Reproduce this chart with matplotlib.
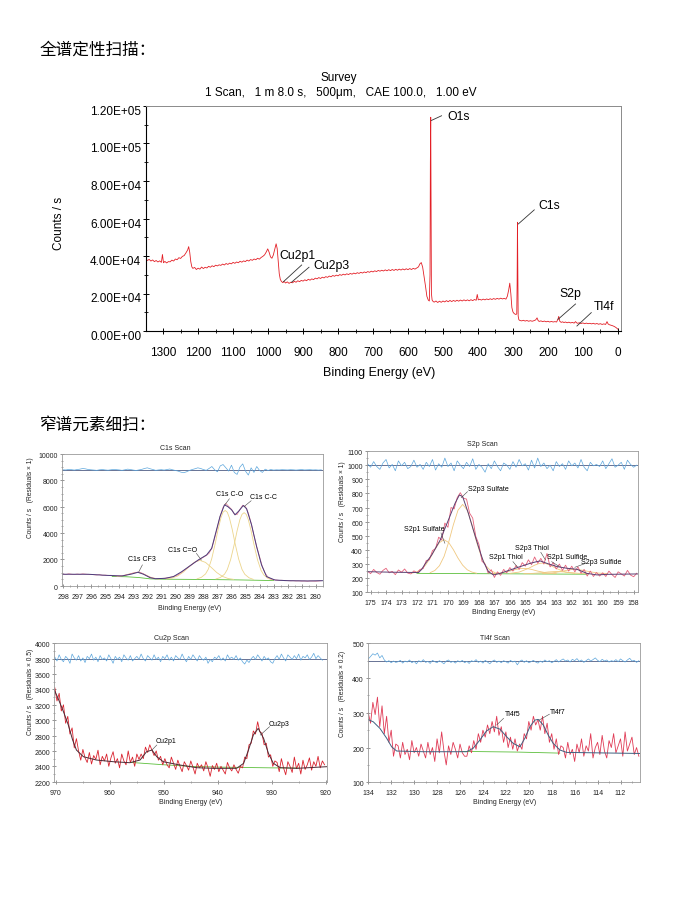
import numpy as np
import matplotlib
matplotlib.use('Agg')
import matplotlib.pyplot as plt
from matplotlib.ticker import MultipleLocator, FuncFormatter
import matplotlib.transforms as mtransforms

plt.rcParams['font.family'] = ['Liberation Sans', 'DejaVu Sans']

# ---------------- survey ----------------
survey_be = [1350, 1345, 1340, 1335, 1330, 1325, 1320, 1315, 1310, 1305, 1302, 1299, 1295, 1290, 1285,
             1280, 1275, 1270, 1265, 1260, 1255, 1250, 1245, 1240, 1235, 1230, 1227, 1224, 1221, 1218,
             1215, 1210, 1205, 1200, 1195, 1190, 1185, 1180, 1175, 1170, 1165, 1160, 1155, 1150, 1145,
             1140, 1135, 1130, 1125, 1120, 1115, 1110, 1105, 1100, 1095, 1090, 1085, 1080, 1075, 1070,
             1065, 1060, 1055, 1050, 1045, 1040, 1035, 1030, 1025, 1020, 1015, 1010, 1005, 1001, 997,
             993, 989, 985, 981, 977, 974, 971, 968, 965, 962, 958, 954, 950, 945, 940,
             935, 930, 925, 920, 915, 910, 905, 900, 895, 890, 885, 880, 875, 870, 865,
             860, 855, 850, 845, 840, 835, 830, 825, 820, 815, 810, 805, 800, 795, 790,
             785, 780, 775, 770, 765, 760, 755, 750, 745, 740, 735, 730, 725, 720, 715,
             710, 705, 700, 695, 690, 685, 680, 675, 670, 665, 660, 655, 650, 645, 640,
             635, 630, 625, 620, 615, 610, 605, 600, 595, 590, 585, 580, 575, 570, 566,
             562, 558, 554, 550, 546, 542, 539, 537, 536, 535, 534, 533, 531, 528, 525,
             520, 515, 510, 505, 500, 495, 490, 485, 480, 475, 470, 465, 460, 455, 450,
             445, 440, 435, 430, 425, 420, 415, 410, 405, 402, 399, 395, 390, 385, 380,
             375, 370, 365, 360, 355, 350, 345, 340, 335, 330, 325, 320, 316, 312, 309,
             306, 303, 300, 297, 294, 291, 289, 288, 287, 286, 285, 283, 280, 275, 270,
             265, 260, 255, 250, 245, 240, 235, 231, 228, 225, 220, 215, 210, 205, 200,
             195, 190, 185, 180, 175, 171, 169, 166, 162, 158, 154, 150, 145, 140, 135,
             130, 125, 121, 118, 115, 110, 105, 100, 95, 90, 85, 80, 75, 70, 65,
             60, 55, 50, 45, 40, 35, 31, 28, 25, 20, 15, 10, 5, 0]
survey_cps = [38400, 37600, 38200, 37300, 37900, 37000, 37600, 36800, 37400, 36600, 40800, 36400, 37100, 36300, 37000,
              36900, 37800, 37300, 38400, 38000, 39100, 38700, 39800, 40200, 41600, 43200, 45000, 42000, 37000, 34200,
              33400, 33900, 32800, 33500, 33000, 34100, 33300, 34000, 33600, 34500, 34000, 34800, 34300, 35100, 34700,
              35300, 35000, 35700, 35200, 36000, 35500, 36200, 35800, 36600, 36100, 36800, 36400, 37200, 36700, 37400,
              37000, 37800, 37300, 38100, 37700, 38400, 38000, 38800, 38300, 39200, 39800, 40600, 42200, 43800, 42000,
              39500, 38800, 40500, 43500, 46500, 44000, 37000, 30500, 27500, 26500, 25800, 26400, 25600, 26200, 25400,
              26000, 25700, 26500, 26000, 26800, 26300, 27000, 26600, 27300, 26800, 27600, 27100, 27800, 27400, 28200,
              27800, 28500, 28000, 28700, 28300, 29000, 28600, 29300, 28900, 29600, 29200, 29800, 29400, 30100, 29700,
              30300, 29900, 30500, 30100, 30700, 30300, 30900, 30500, 31100, 30700, 31300, 30900, 31500, 31100, 31700,
              31300, 31900, 31500, 32100, 31700, 32300, 31900, 32400, 32000, 32600, 32100, 32700, 32200, 32800, 32300,
              32900, 32400, 33000, 32500, 33100, 32600, 33200, 32700, 33300, 32800, 33400, 33000, 33600, 34200, 35800,
              36500, 34000, 29000, 24000, 18500, 16500, 16000, 30000, 90000, 114000, 70000, 20000, 16500, 15700, 15400,
              16000, 15200, 15900, 15300, 16000, 15500, 16200, 15600, 16300, 15700, 16300, 15800, 16400, 15900, 16500,
              16000, 16600, 16100, 16600, 16100, 16700, 16200, 16800, 16400, 19500, 16600, 16900, 16500, 17000, 16600,
              17100, 16700, 17200, 16800, 17300, 16900, 17400, 17000, 17500, 17100, 17400, 17000, 18500, 22000, 25500,
              20000, 12500, 10200, 9400, 9000, 8800, 9200, 25000, 58000, 30000, 8000, 6000, 5600, 5400, 5700,
              5300, 5600, 5200, 5500, 5200, 5500, 5900, 7000, 5600, 5100, 5400, 5000, 5300, 4900, 5200,
              4800, 5100, 4800, 5000, 4800, 6500, 7800, 5200, 4600, 4900, 4500, 4800, 4400, 4700, 4300,
              4600, 4200, 5000, 4400, 4100, 4400, 4000, 4300, 3900, 4200, 3900, 4100, 3800, 4100, 3700,
              4000, 3600, 3900, 3500, 3800, 3500, 5000, 3800, 3400, 3100, 2800, 2400, 1800, 1000]

survey_peaks = ['O1s', 'C1s', 'Cu2p1', 'Cu2p3', 'S2p', 'Tl4f']
survey_text_be = [486, 226, 968, 871, 166, 69]
survey_text_cps = [114100, 66750, 40050, 34700, 19600, 12640]
survey_lead_be = [(533, 504), (284.5, 239), (956, 904), (933, 883), (171, 121), (117, 76)]
survey_lead_cps = [(112300, 114800), (57100, 64600), (26300, 35200), (26000, 34000), (6230, 14400), (2670, 9800)]

# ---------------- C1s ----------------
c1s_start, c1s_step = 298.0, 0.2
c1s_raw = [880, 850, 905, 870, 845, 885, 860, 900, 875, 850,
           860, 835, 815, 845, 790, 805, 770, 790, 765, 745,
           735, 760, 795, 850, 905, 960, 1005, 1040, 965, 860, 745, 640, 575, 540, 525, 545, 565, 590, 625, 680,
           745, 830, 990, 1150, 1300, 1460, 1620, 1790, 1910, 2040, 2160, 2290, 2460, 2850, 3600, 4450, 5300, 5950, 6250, 6020,
           5800, 5450, 5400, 5790, 6110, 5990, 5520, 4750, 3800, 2950, 2200, 1450, 950, 650, 520, 455, 430, 400, 410, 380,
           390, 370, 380, 360, 370, 350, 360, 340, 360, 350, 340, 360, 380]
c1s_resid = [8800, 8790, 8830, 8810, 8780, 8820, 8850, 8900, 8870, 8820,
             8800, 8780, 8760, 8800, 8820, 8790, 8770, 8800, 8830, 8810,
             8790, 8760, 8800, 8850, 8820, 8780, 8750, 8790, 8830, 8900, 8950, 8880, 8820, 8760, 8790, 8810, 8780, 8820, 8860, 8800,
             8750, 8700, 8620, 8580, 8650, 8750, 8820, 8880, 8950, 8900, 8820, 8760, 8900, 9050, 8800, 8650, 9100, 9200, 8950, 8700,
             9150, 8600, 8450, 9000, 9250, 8700, 8400, 8950, 8600, 9050, 8750, 8600, 8850, 8750, 8820, 8780, 8800, 8790, 8810, 8800,
             8790, 8810, 8800, 8780, 8800, 8820, 8790, 8800, 8810, 8790, 8800, 8780, 8800]
c1s_env_be = [298.1, 296.2, 295.0, 293.8, 293.1, 292.67, 292.27, 291.8, 291.44, 290.73, 290.14, 289.54, 288.95,
              288.36, 287.77, 287.41, 287.1, 286.82, 286.5, 286.27, 285.99, 285.75, 285.47, 285.16, 284.92,
              284.57, 284.21, 283.86, 283.5, 282.9, 281.97, 280.55, 279.5]
c1s_env = [870, 868, 790, 740, 890, 1020, 870, 610, 530, 560, 690, 1070, 1520,
           1960, 2340, 2840, 4110, 5250, 6140, 6010, 5760, 5380, 5680, 6090, 5840,
           4620, 2970, 1580, 690, 430, 380, 360, 380]
c1s_bg_be = [294.5, 293.5, 292.6, 291.8, 291.0, 289.0, 287.0, 285.5, 284.0, 283.0]
c1s_bg = [700, 680, 620, 520, 495, 480, 460, 440, 410, 390]
c1s_cf3_be = [294.15, 293.85, 293.55, 293.25, 292.95, 292.65, 292.35, 292.05, 291.75, 291.45, 291.15]
c1s_cf3 = [710, 738, 801, 892, 974, 1003, 924, 782, 640, 559, 517]
c1s_co2_be = [290.65, 290.25, 289.85, 289.45, 289.05, 288.65, 288.25, 287.85, 287.45, 287.05, 286.65, 286.25, 285.85]
c1s_co2 = [516, 578, 732, 1018, 1411, 1775, 1924, 1768, 1398, 998, 708, 549, 481]
c1s_co_be = [288.45, 288.15, 287.85, 287.65, 287.41, 287.15, 286.95, 286.75, 286.6, 286.45,
             286.3, 286.15, 285.95, 285.75, 285.49, 285.25, 285.05, 284.75, 284.45]
c1s_co = [525, 634, 892, 1260, 2043, 3246, 4295, 5164, 5583, 5712,
          5581, 5159, 4287, 3235, 2027, 1238, 865, 600, 482]
c1s_cc_be = [287.1, 286.8, 286.5, 286.3, 286.06, 285.8, 285.6, 285.4, 285.25, 285.1,
             284.95, 284.8, 284.6, 284.4, 284.14, 283.9, 283.7, 283.4, 283.1]
c1s_cc = [517, 617, 870, 1226, 1988, 3155, 4172, 5020, 5418, 5546,
          5413, 5010, 4156, 3130, 1952, 1180, 818, 555, 446]
c1s_labels = ['C1s C-O', 'C1s C-C', 'C1s C=O', 'C1s CF3']
c1s_lab_be = [286.1, 283.7, 289.5, 292.4]
c1s_lab_cps = [6960, 6700, 2640, 1960]
c1s_lead_be = [(286.47, 286.15), (285.1, 284.6), (288.5, 288.15), (292.6, 292.35)]
c1s_lead_cps = [(6140, 6600), (6010, 6450), (2450, 1950), (1070, 1580)]

# ---------------- S2p ----------------
s2p_start, s2p_step = 175.2, 0.2
s2p_raw = [250, 232, 262, 240, 228, 255, 270, 238, 248, 225, 258, 242, 265, 236, 230, 252, 238,
           262, 268, 325, 330, 395, 410, 490, 470, 590, 560, 700, 690, 770, 805, 765, 760, 660, 625, 495,
           440, 320, 300, 235, 260, 205, 245, 220, 262, 238, 275, 250, 290, 262, 310, 285, 330, 295, 350,
           305, 340, 300, 375, 280, 310, 265, 300, 255, 292, 250, 285, 245, 280, 235, 262, 215, 250, 212,
           240, 215,
           238, 212, 250, 225, 205, 245, 230, 215, 255, 222, 210, 235]
s2p_resid = [1010, 985, 1025, 990, 970, 1015, 1040, 980, 1005, 960, 1030, 995, 1020, 975, 990, 1035, 985,
             1005, 970, 1020, 990, 1040, 965, 1010, 985, 1050, 990, 1015, 960, 1030, 1000, 975, 1020, 990,
             1045, 970, 1005, 985, 950, 1010, 975, 1030, 990, 960, 1015, 1000, 970, 1025, 985, 1040, 995,
             1010, 965, 1035, 980, 1050, 990, 1015, 975, 1000, 960, 1025, 990, 1010, 970, 1030, 995, 1015,
             980, 1040, 985, 960, 1020, 995, 1005, 990, 1030, 975, 1010, 1045, 985, 1000, 1020, 970, 1035,
             1005, 985, 1000]
s2p_env_be = [175.26, 173.5, 171.9, 171.7, 171.48, 171.05, 170.5, 169.97, 169.54, 169.26, 169.05, 168.68,
              168.36, 168.03, 167.71, 167.38, 167.06, 166.63, 165.98, 165.33, 164.69, 164.26, 164.04,
              163.61, 162.96, 162.31, 161.67, 161.02, 160.37, 159.72, 157.68]
s2p_env = [246, 242, 240, 262, 300, 364, 470, 612, 730, 789, 777, 659,
           541, 423, 317, 246, 223, 234, 258, 282, 305, 317, 322,
           305, 282, 270, 263, 234, 223, 227, 230]
s2p_bg_be = [172.0, 161.0]
s2p_bg = [234, 228]
s2p_comp_be = [
    [171.15, 170.85, 170.55, 170.25, 169.95, 169.65, 169.35, 169.05, 168.75, 168.45, 168.15, 167.85, 167.55, 167.25, 166.95],
    [172.35, 172.05, 171.75, 171.45, 171.15, 170.85, 170.55, 170.25, 169.95, 169.65, 169.35, 169.05, 168.75, 168.45, 168.15],
    [166.0, 165.4, 164.8, 164.4, 164.1, 163.9, 163.7, 163.4, 163.0, 162.4, 161.8],
    [167.2, 166.6, 166.0, 165.6, 165.3, 165.1, 164.9, 164.6, 164.2, 163.6, 163.0],
    [163.9, 163.3, 162.7, 162.3, 162.0, 161.8, 161.6, 161.3, 160.9, 160.3, 159.7],
    [165.1, 164.5, 163.9, 163.5, 163.2, 163.0, 162.8, 162.5, 162.1, 161.5, 160.9],
]
s2p_comp = [
    [239, 254, 288, 354, 456, 578, 681, 722, 681, 578, 456, 354, 288, 254, 239],
    [235, 243, 259, 292, 342, 402, 452, 472, 452, 402, 342, 292, 259, 243, 235],
    [234, 243, 269, 292, 304, 307, 304, 292, 269, 243, 234],
    [233, 237, 250, 262, 268, 269, 268, 262, 250, 237, 233],
    [233, 236, 247, 256, 261, 262, 261, 256, 247, 236, 233],
    [232, 234, 239, 244, 246, 247, 246, 244, 239, 234, 232],
]
s2p_labels = ['S2p3 Sulfate', 'S2p1 Sulfate', 'S2p1 Thiol', 'S2p3 Thiol', 'S2p1 Sulfide', 'S2p3 Sulfide']
s2p_lab_be = [168.72, 171.55, 166.25, 164.55, 162.3, 160.07]
s2p_lab_cps = [829, 541, 345, 411, 345, 312]
s2p_lab_ha = ['left', 'center', 'center', 'center', 'center', 'center']
s2p_lead_be = [(169.14, 168.74), (170.45, 170.2), (165.8, 165.5), (164.0, 163.7), (163.3, 162.8), (161.1, 161.8)]
s2p_lead_cps = [(770, 812), (520, 447), (317, 277), (383, 329), (317, 282), (305, 277)]

# ---------------- Cu2p ----------------
cu_start, cu_step = 970.2, 0.4
cu_raw = [3420, 3250, 3350, 3120, 3200, 2960, 3050, 2820, 2900, 2640, 2760,
          2600, 2480, 2620, 2510, 2450, 2580, 2430, 2540, 2490, 2610, 2420, 2530, 2470, 2560, 2400,
          2510, 2590, 2440, 2500, 2380, 2560, 2470, 2420, 2600, 2450, 2520, 2400, 2560, 2490,
          2560, 2500, 2650, 2580, 2680, 2610, 2540, 2600, 2480, 2530, 2420,
          2500, 2420, 2380, 2520, 2440, 2360, 2480, 2400, 2330, 2460, 2410, 2350, 2470, 2390, 2300,
          2440, 2380, 2420, 2340, 2460, 2380, 2270, 2410, 2360, 2440, 2330, 2400, 2350, 2300, 2450,
          2380, 2340, 2420, 2360, 2310, 2400,
          2380, 2520, 2500, 2680, 2700, 2860, 2820, 2980, 2850, 2830, 2680, 2700, 2520, 2550, 2400, 2470,
          2450, 2330, 2500, 2380, 2290, 2460, 2400, 2320, 2520, 2370, 2440, 2300, 2480, 2360, 2420,
          2510, 2350, 2460, 2400, 2530, 2380, 2470, 2420]
cu_resid = [3820, 3770, 3850, 3790, 3760, 3830, 3800, 3740, 3860, 3810, 3780,
            3840, 3770, 3810, 3750, 3830, 3800, 3860, 3780, 3820, 3760, 3840, 3790, 3810, 3770, 3850,
            3800, 3740, 3830, 3790, 3820, 3760, 3850, 3810, 3780, 3840, 3770, 3800, 3830,
            3790, 3860, 3800, 3770, 3840, 3810, 3780, 3850, 3790, 3820, 3760,
            3830, 3800, 3850, 3780, 3820, 3770, 3840, 3810, 3790, 3860, 3800, 3760, 3830, 3790, 3850,
            3810, 3770, 3840, 3800, 3780, 3820, 3740, 3790, 3760, 3820, 3800, 3840, 3780, 3810, 3770,
            3850, 3800, 3820, 3790, 3840, 3780,
            3810, 3760, 3730, 3780, 3750, 3800, 3830, 3790, 3850, 3810, 3770, 3830, 3790, 3810, 3760, 3740,
            3800, 3840, 3790, 3860, 3810, 3770, 3850, 3820, 3790, 3840, 3800, 3860, 3780, 3830, 3810,
            3850, 3790, 3820, 3870, 3800, 3840, 3810, 3780]
cu_env_be = [970.3, 969.6, 968.6, 967.7, 966.9, 966.2, 964.9, 962.5, 959.4, 956.3, 954.4, 953.2, 952.2,
             951.3, 950.1, 947.0, 943.9, 940.8, 936.5, 935.2, 934.3, 933.4, 932.5, 931.5, 930.6, 929.7,
             928.4, 925.3, 919.8]
cu_env = [3392, 3284, 3110, 2937, 2742, 2612, 2525, 2482, 2460, 2447, 2482, 2590, 2612,
          2525, 2460, 2417, 2382, 2374, 2374, 2439, 2612, 2807, 2894, 2764, 2569, 2439,
          2382, 2374, 2395]
cu_bg_be = [956, 950, 945, 940, 935, 930, 925]
cu_bg = [2450, 2420, 2400, 2390, 2385, 2380, 2378]
cu_labels = ['Cu2p1', 'Cu2p3']
cu_lab_be = [949.5, 928.6]
cu_lab_cps = [2720, 2946]
cu_lead_be = [(952.2, 951.3), (932.1, 930.4)]
cu_lead_cps = [(2612, 2677), (2807, 2915)]

# ---------------- Tl4f ----------------
tl_start, tl_step = 134.0, 0.2
tl_raw = [300, 270, 330, 295, 345, 260, 320, 240, 290, 215, 250, 175, 210,
          205, 170, 215, 180, 195, 165, 220, 185, 200, 175, 210, 190, 170, 215, 180,
          200, 160, 225, 185, 245, 190, 150, 205, 180, 215, 195, 170, 210, 185, 175,
          175, 205, 185, 220, 195, 240, 215, 250, 230, 265, 240, 275, 245, 290, 235,
          260, 215, 245, 200, 230, 195, 225, 190, 210,
          195, 240, 225, 275, 250, 290, 265, 280, 250, 290, 240, 270, 215, 240, 195, 225, 180, 205,
          200, 170, 215, 180, 195, 160, 210, 185, 225, 175, 205, 190, 240, 170, 200, 215, 180,
          235, 190, 170, 220, 200, 240, 185, 205, 225, 175, 245, 190, 210, 230, 180, 200, 175]
tl_resid = [455, 462, 470, 466, 472, 458, 465, 452, 446, 450, 444, 449, 445,
            447, 451, 443, 449, 446, 452, 444, 448, 441, 450, 446, 453, 445, 448, 442, 451, 447,
            444, 450, 446, 441, 449, 452, 445, 448, 443, 450, 446,
            451, 444, 448, 442, 450, 447, 453, 445, 449, 443, 451, 446, 441, 448, 452, 445, 449, 444, 450, 447,
            443, 451, 446, 449, 438, 448, 452, 445, 450, 444, 447, 451, 446, 443, 449,
            445, 452, 447, 450, 444, 448, 453, 446, 451, 455, 449, 452, 446, 454, 450, 456, 448, 452,
            445, 450, 455, 449, 453, 458, 451, 447, 454, 449, 452, 446, 450, 448,
            453, 447, 455, 450, 446, 452, 457, 449, 451, 445, 450]
tl_env_be = [134.05, 133.56, 132.98, 132.4, 131.96, 131.52, 129.2, 125.42, 124.85, 124.26, 123.68, 123.1,
             122.52, 121.93, 121.36, 120.77, 120.34, 119.9, 119.47, 119.18, 118.74, 118.31, 117.87,
             117.29, 116.7, 110.3]
tl_env = [281, 274, 255, 227, 202, 190, 188, 188, 198, 222, 248, 260,
          253, 231, 212, 202, 227, 260, 279, 281, 265, 236, 212,
          193, 186, 183]
tl_bg_be = [126.0, 121.0, 117.3]
tl_bg = [189, 187, 184]
tl_labels = ['Tl4f5', 'Tl4f7']
tl_lab_be = [121.4, 117.5]
tl_lab_cps = [294, 301]
tl_lead_be = [(122.8, 122.2), (119.1, 118.2)]
tl_lead_cps = [(265, 284), (279, 296)]

W, H = 675, 900
fig = plt.figure(figsize=(W / 100, H / 100), dpi=100)


def fx(px):
    return px / W


def fy(py):
    return 1 - py / H


def rect(left, top, right, bottom):
    return [fx(left), fy(bottom), (right - left) / W, (bottom - top) / H]


def shift_yticklabels(ax, dy_px):
    off = mtransforms.ScaledTranslation(0, -dy_px / 100, fig.dpi_scale_trans)
    for lab in ax.get_yticklabels():
        lab.set_transform(lab.get_transform() + off)


cjk = ['Noto Sans CJK SC', 'DejaVu Sans']
fig.text(fx(40), fy(50), '全谱定性扫描：', family=cjk, fontsize=12, va='center', ha='left')
fig.text(fx(40), fy(425), '窄谱元素细扫：', family=cjk, fontsize=12, va='center', ha='left')

# ---- survey axes
ax = fig.add_axes(rect(146, 106, 621, 331))
ax.plot(survey_be, survey_cps, color='#e31f26', lw=0.6)
ax.set_xlim(1349, -9)
ax.set_ylim(0, 1.2e5)
ax.xaxis.set_major_locator(MultipleLocator(100))
ax.xaxis.set_minor_locator(MultipleLocator(50))
ax.yaxis.set_major_locator(MultipleLocator(20000))
ax.yaxis.set_minor_locator(MultipleLocator(10000))
ax.yaxis.set_major_formatter(FuncFormatter(lambda v, p: f'{v:.2E}'))
ax.tick_params(which='major', direction='inout', length=5, width=0.7, labelsize=8.5)
ax.tick_params(which='minor', direction='inout', length=3, width=0.6)
ax.tick_params(axis='x', which='major', pad=9)
ax.tick_params(axis='y', which='major', pad=1)
for s in ['top', 'right']:
    ax.spines[s].set_color('#8a8a8a')
    ax.spines[s].set_linewidth(0.7)
for s in ['left', 'bottom']:
    ax.spines[s].set_linewidth(0.8)
shift_yticklabels(ax, 4.5)
for name, tx, ty, lx, ly in zip(survey_peaks, survey_text_be, survey_text_cps, survey_lead_be, survey_lead_cps):
    ax.plot(lx, ly, color='#333333', lw=0.6)
    ax.text(tx, ty, name, fontsize=8.8, ha='left', va='center')
fig.text(fx(339), fy(77.7), 'Survey', fontsize=8.5, ha='center', va='center')
fig.text(fx(341), fy(92.7), '1 Scan,   1 m 8.0 s,   500μm,   CAE 100.0,   1.00 eV',
         fontsize=8.5, ha='center', va='center')
fig.text(fx(379), fy(373), 'Binding Energy (eV)', fontsize=9, ha='center', va='center')
fig.text(fx(59.4), fy(223), 'Counts / s', fontsize=8.5, ha='center', va='center', rotation=90)


# ---- narrow scans
def scan_axes(box, xlim, ylim, xmaj, xmin, ymaj, ymin):
    a = fig.add_axes(rect(*box))
    a.set_xlim(*xlim)
    a.set_ylim(*ylim)
    a.xaxis.set_major_locator(MultipleLocator(xmaj))
    a.xaxis.set_minor_locator(MultipleLocator(xmin))
    a.yaxis.set_major_locator(MultipleLocator(ymaj))
    a.yaxis.set_minor_locator(MultipleLocator(ymin))
    a.xaxis.set_major_formatter(FuncFormatter(lambda v, p: f'{v:g}'))
    a.yaxis.set_major_formatter(FuncFormatter(lambda v, p: f'{v:g}'))
    a.tick_params(which='major', direction='inout', length=3, width=0.4, labelsize=5, colors='#444444',
                  labelcolor='#222222')
    a.tick_params(which='minor', direction='inout', length=2, width=0.4, colors='#666666')
    a.tick_params(axis='x', which='major', pad=4.2)
    a.tick_params(axis='y', which='major', pad=1.2)
    for s in a.spines.values():
        s.set_color('#9a9a9a')
        s.set_linewidth(0.6)
    shift_yticklabels(a, 1.5)
    return a


def grid(start, step, n):
    return start - step * np.arange(n)


resid_col = '#5ca6dc'
base_col = '#2b3b6b'
bg_col = '#5cbf3c'
font_small = 5

# C1s
a1 = scan_axes((61.7, 454, 322.7, 585.7), (298.1, 279.5), (0, 10000), 1, 0.5, 2000, 500)
a1.axhline(8800, color=base_col, lw=0.5)
a1.plot(grid(c1s_start, c1s_step, len(c1s_resid)), c1s_resid, color=resid_col, lw=0.5)
a1.plot(c1s_bg_be, c1s_bg, color=bg_col, lw=0.6)
for be, v in [(c1s_cf3_be, c1s_cf3), (c1s_co2_be, c1s_co2), (c1s_co_be, c1s_co), (c1s_cc_be, c1s_cc)]:
    a1.plot(be, v, color='#ecd58c', lw=0.6)
a1.plot(grid(c1s_start, c1s_step, len(c1s_raw)), c1s_raw, color='#ea8a9c', lw=0.6)
a1.plot(c1s_env_be, c1s_env, color='#4a3c7c', lw=0.7)
for name, tx, ty, lx, ly in zip(c1s_labels, c1s_lab_be, c1s_lab_cps, c1s_lead_be, c1s_lead_cps):
    a1.plot(lx, ly, color='#444444', lw=0.4)
    a1.text(tx, ty, name, fontsize=font_small, ha='center', va='center')

# S2p
a2 = scan_axes((366.7, 451, 638.3, 592.3), (175.25, 157.7), (100, 1100), 1, 0.5, 100, 50)
a2.axhline(1000, color=base_col, lw=0.5)
a2.plot(grid(s2p_start, s2p_step, len(s2p_resid)), s2p_resid, color=resid_col, lw=0.5)
a2.plot(s2p_bg_be, s2p_bg, color=bg_col, lw=0.6)
for be, v in zip(s2p_comp_be, s2p_comp):
    a2.plot(be, v, color='#f0c880', lw=0.6)
a2.plot(grid(s2p_start, s2p_step, len(s2p_raw)), s2p_raw, color='#e6607a', lw=0.6)
a2.plot(s2p_env_be, s2p_env, color='#5b3f72', lw=0.7)
for name, tx, ty, ha, lx, ly in zip(s2p_labels, s2p_lab_be, s2p_lab_cps, s2p_lab_ha, s2p_lead_be, s2p_lead_cps):
    a2.plot(lx, ly, color='#444444', lw=0.4)
    a2.text(tx, ty, name, fontsize=font_small, ha=ha, va='center')

# Cu2p
a3 = scan_axes((54.3, 643.3, 326.7, 781.7), (970.3, 919.8), (2200, 4000), 10, 5, 200, 100)
a3.axhline(3800, color=base_col, lw=0.5)
a3.plot(grid(cu_start, cu_step, len(cu_resid)), cu_resid, color=resid_col, lw=0.5)
a3.plot(cu_bg_be, cu_bg, color=bg_col, lw=0.6)
a3.plot(grid(cu_start, cu_step, len(cu_raw)), cu_raw, color='#d9232f', lw=0.6)
a3.plot(cu_env_be, cu_env, color='#4a2a35', lw=0.7)
for name, tx, ty, lx, ly in zip(cu_labels, cu_lab_be, cu_lab_cps, cu_lead_be, cu_lead_cps):
    a3.plot(lx, ly, color='#444444', lw=0.4)
    a3.text(tx, ty, name, fontsize=font_small, ha='center', va='center')

# Tl4f
a4 = scan_axes((367.7, 643.3, 640, 782.3), (134.05, 110.3), (100, 500), 2, 1, 100, 50)
a4.axhline(448, color=base_col, lw=0.5)
a4.plot(grid(tl_start, tl_step, len(tl_resid)), tl_resid, color=resid_col, lw=0.5)
a4.plot(tl_bg_be, tl_bg, color=bg_col, lw=0.6)
a4.plot(grid(tl_start, tl_step, len(tl_raw)), tl_raw, color='#e03a55', lw=0.6)
a4.plot(tl_env_be, tl_env, color='#3e6080', lw=0.7)
for name, tx, ty, lx, ly in zip(tl_labels, tl_lab_be, tl_lab_cps, tl_lead_be, tl_lead_cps):
    a4.plot(lx, ly, color='#444444', lw=0.4)
    a4.text(tx, ty, name, fontsize=font_small, ha='center', va='center')

# panel titles, axis labels
panel_titles = ['C1s Scan', 'S2p Scan', 'Cu2p Scan', 'Tl4f Scan']
title_xy = [(175, 448), (482, 445), (171.7, 638.3), (495, 638.3)]
xlabel_xy = [(190, 608), (504, 612.7), (190.7, 802.3), (505, 802.3)]
ylabels = ['Counts / s   (Residuals × 1)', 'Counts / s   (Residuals × 1)',
           'Counts / s   (Residuals × 0.5)', 'Counts / s   (Residuals × 0.2)']
ylabel_xy = [(30, 498), (342, 502), (30, 692), (342, 694)]
for t, (tx, ty), (bx, by), yl, (lx, ly) in zip(panel_titles, title_xy, xlabel_xy, ylabels, ylabel_xy):
    fig.text(fx(tx), fy(ty), t, fontsize=font_small, ha='center', va='center', color='#222222')
    fig.text(fx(bx), fy(by), 'Binding Energy (eV)', fontsize=font_small, ha='center', va='center', color='#222222')
    fig.text(fx(lx), fy(ly), yl, fontsize=4.8, ha='center', va='center', rotation=90, color='#222222')

fig.savefig('out.png', dpi=100)
